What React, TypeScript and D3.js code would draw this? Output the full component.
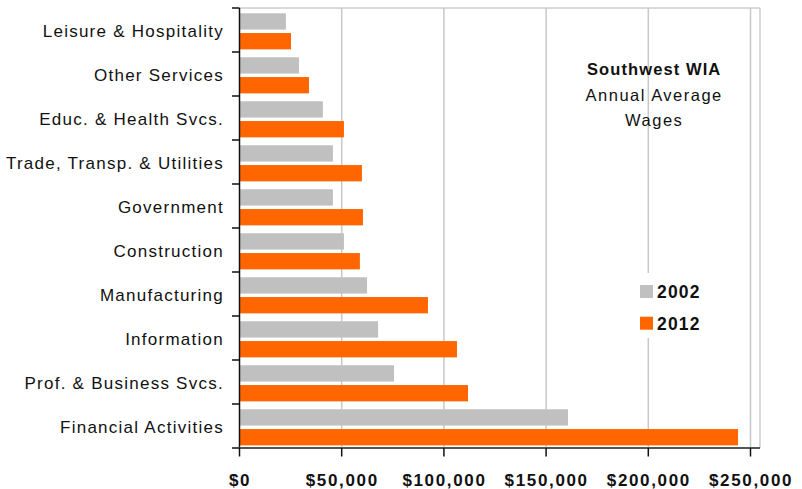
import React from "react";
import * as d3 from "d3";

const categories = [
  "Leisure & Hospitality",
  "Other Services",
  "Educ. & Health Svcs.",
  "Trade, Transp. & Utilities",
  "Government",
  "Construction",
  "Manufacturing",
  "Information",
  "Prof. & Business Svcs.",
  "Financial Activities",
];
const series = ["2002", "2012"];
const wages2002 = [22700, 29100, 40800, 45700, 45700, 51100, 62400, 67800, 75600, 160700];
const wages2012 = [25200, 34000, 51100, 59900, 60400, 58900, 92200, 106400, 111800, 243900];
const xTicks = [0, 50000, 100000, 150000, 200000, 250000];
const colors = ["#c0c0c0", "#ff6600"];
const titleLines = ["Southwest WIA", "Annual Average", "Wages"];

const W = 802;
const H = 489;
const FONT = "'Liberation Sans', Arial, Helvetica, sans-serif";

export default function App() {
  const left = 239.5;
  const top = 8;
  const bottom = 448;
  const right = 760;
  const x = d3.scaleLinear().domain([0, 250000]).range([left, 750.5]);
  const y = d3.scaleBand<string>().domain(categories).range([top, bottom]).paddingInner(0).paddingOuter(0);
  const bw = y.bandwidth();
  const y1 = d3
    .scaleBand<string>()
    .domain(series)
    .range([bw * 0.12, bw * 0.94])
    .paddingInner(0.175);
  const data = [wages2002, wages2012];
  const fmt = (v: number) => "$" + d3.format(",")(v);
  const ls = 1.1;
  const catLs = 1.25;

  return (
    <svg width={W} height={H} style={{ position: "absolute", left: 0, top: 0, fontFamily: FONT }}>
      <rect x={0} y={0} width={W} height={H} fill="#fff" />
      {/* top and right border */}
      <line x1={left} x2={right} y1={top} y2={top} stroke="#cccccc" strokeWidth={1.5} />
      <line x1={right} x2={right} y1={top} y2={bottom} stroke="#cccccc" strokeWidth={1.5} />
      {/* gridlines */}
      {xTicks.slice(1).map((t) => (
        <line key={t} x1={x(t)} x2={x(t)} y1={top} y2={bottom} stroke="#c8c8c8" strokeWidth={1.5} />
      ))}
      {/* title */}
      {titleLines.map((t, i) => (
        <text
          key={t}
          x={653.5 + 0.7}
          y={75 + i * 25.5}
          textAnchor="middle"
          fontSize={16.5}
          fontWeight={i === 0 ? "bold" : "normal"}
          letterSpacing={i === 0 ? 1.1 : 1.5}
          fill="#111"
        >
          {t}
        </text>
      ))}
      {/* bars */}
      {categories.map((c, ci) => (
        <g key={c} transform={`translate(0,${y(c)})`}>
          {series.map((s, si) => (
            <rect
              key={s}
              x={x(0)}
              y={y1(s)}
              width={x(data[si][ci]) - x(0)}
              height={y1.bandwidth()}
              fill={colors[si]}
            />
          ))}
        </g>
      ))}
      {/* legend */}
      <rect x={636} y={273} width={72} height={65} fill="#fff" />
      {series.map((s, i) => (
        <g key={s} transform={`translate(640,${285 + i * 31.7})`}>
          <rect x={0} y={0} width={13} height={13} fill={colors[i]} />
          <text x={17} y={13.3} fontSize={17.5} fontWeight="bold" letterSpacing={1.2} fill="#111">
            {s}
          </text>
        </g>
      ))}
      {/* left axis */}
      <line x1={left} x2={left} y1={top} y2={bottom} stroke="#111" strokeWidth={1.5} />
      {[...categories.map((c) => y(c) as number), bottom].map((v, i) => (
        <line key={i} x1={232} x2={left} y1={v} y2={v} stroke="#111" strokeWidth={1.5} />
      ))}
      {categories.map((c) => (
        <text
          key={c}
          x={222.7 + catLs}
          y={(y(c) as number) + bw / 2 + 7.3}
          textAnchor="end"
          fontSize={17}
          letterSpacing={catLs}
          fill="#111"
        >
          {c}
        </text>
      ))}
      {/* bottom axis */}
      <line x1={left} x2={right} y1={bottom} y2={bottom} stroke="#555" strokeWidth={2} />
      {xTicks.map((t) => (
        <line key={t} x1={x(t)} x2={x(t)} y1={bottom} y2={456.5} stroke="#111" strokeWidth={1.5} />
      ))}
      {xTicks.map((t) => (
        <text
          key={t}
          x={x(t) + ls / 2}
          y={486}
          textAnchor="middle"
          fontSize={17}
          fontWeight="bold"
          letterSpacing={ls * 1.5}
          fill="#111"
        >
          {fmt(t)}
        </text>
      ))}
    </svg>
  );
}
